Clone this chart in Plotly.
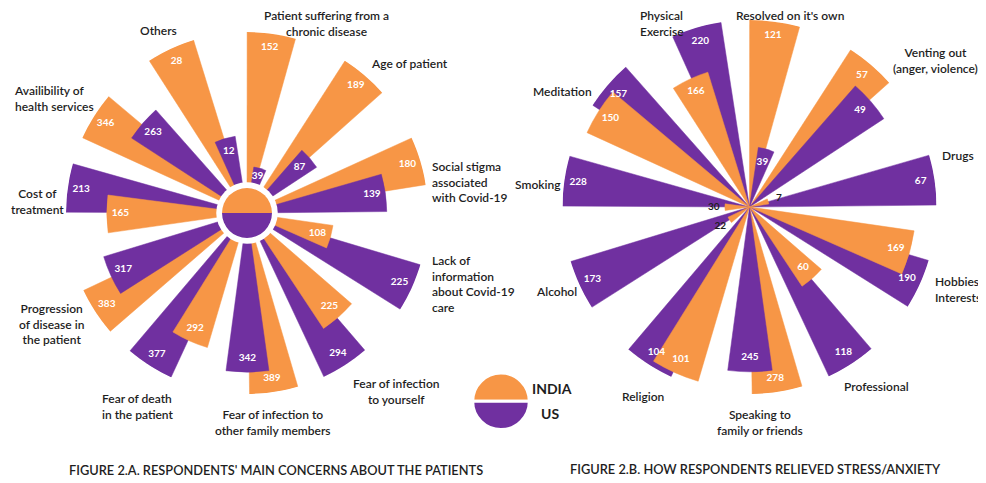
import plotly.graph_objects as go

# ---- data ----
CONCERN_LABELS = [
    "Patient suffering from a<br>chronic disease",
    "Age of patient",
    "Social stigma<br>associated<br>with Covid-19",
    "Lack of<br>information<br>about Covid-19<br>care",
    "Fear of infection<br>to yourself",
    "Fear of infection to<br>other family members",
    "Fear of death<br>in the patient",
    "Progression<br>of disease in<br>the patient",
    "Cost of<br>treatment",
    "Availibility of<br>health services",
    "Others",
]
CONCERN_INDIA = [152, 189, 180, 108, 225, 389, 292, 383, 165, 346, 28]
CONCERN_US = [39, 87, 139, 225, 294, 342, 377, 317, 213, 263, 12]

RELIEF_LABELS = [
    "Resolved on it's own",
    "Venting out<br>(anger, violence)",
    "Drugs",
    "Hobbies/<br>Interests",
    "Professional",
    "Speaking to<br>family or friends",
    "Religion",
    "Alcohol",
    "Smoking",
    "Meditation",
    "Physical<br>Exercise",
]
RELIEF_INDIA = [121, 57, 7, 169, 60, 278, 101, 22, 30, 150, 166]
RELIEF_US = [39, 49, 67, 190, 118, 245, 104, 173, 228, 157, 220]

LEGEND_NAMES = ["INDIA", "US"]

# where the category names sit on the page (x, y of block centre / left edge, anchor)
CONCERN_LABEL_POS = [
    (326, 24, "center"), (409, 64, "center"), (430, 182, "left"), (430, 284, "left"),
    (396, 391, "center"), (273, 422, "center"), (100, 406, "left"), (51, 324, "center"),
    (37, 201, "center"), (12, 99, "left"), (158, 30, "center"),
]
RELIEF_LABEL_POS = [
    (790, 16, "center"), (935, 60, "center"), (958, 155, "center"), (933, 289, "left"),
    (876, 386, "center"), (760, 422, "center"), (643, 396, "center"), (556, 291, "center"),
    (538, 184, "center"), (562, 91, "center"), (638, 24, "left"),
]

W, H = 986, 483
PAGE_MARGIN = 8      # default body margin of the html page
ORANGE = "#F79646"
PURPLE = "#7030A0"
FONT = "Lato"
TEXT_DARK = "#1e1e1e"

STEP = 360 / 11      # one sector per category
START = 7.8          # angle of the first India bar
SHIFT = 8.4          # US bar sits a little clockwise of the India bar
WIDTH = 15.5


def px_x(px):
    return (px - PAGE_MARGIN) / W


def px_y(py):
    return 1 - (py - PAGE_MARGIN) / H


def square_domain(cx, cy, radius):
    return dict(x=[px_x(cx - radius), px_x(cx + radius)],
                y=[px_y(cy + radius), px_y(cy - radius)])


def add_rose(fig, india, us, subplot, inner_min=0.0):
    """Two overlapping bars per category, each scaled to the larger value of its pair."""
    n = len(india)
    th_india = [START + STEP * i for i in range(n)]
    th_us = [t + SHIFT for t in th_india]
    long_r, long_t, long_c, short_r, short_t, short_c = [], [], [], [], [], []
    lab_r, lab_t, lab_txt, lab_col = [], [], [], []
    for i in range(n):
        peak = max(india[i], us[i])
        bars = [(india[i] / peak, th_india[i], ORANGE, india[i]),
                (us[i] / peak, th_us[i], PURPLE, us[i])]
        bars.sort(key=lambda b: -b[0])
        long_r.append(bars[0][0]); long_t.append(bars[0][1]); long_c.append(bars[0][2])
        short_r.append(bars[1][0]); short_t.append(bars[1][1]); short_c.append(bars[1][2])
        for r, t, c, v in bars:
            lab_t.append(t)
            lab_txt.append(str(v))
            if r < 0.2:
                lab_r.append(r + 0.06)
                lab_col.append(TEXT_DARK)
            else:
                lab_r.append(max(r - 0.075, inner_min))
                lab_col.append("white")

    # longer bar first, so the shorter one is drawn on top
    for r, t, c in [(long_r, long_t, long_c), (short_r, short_t, short_c)]:
        fig.add_trace(go.Barpolar(
            r=r, theta=t, width=WIDTH, subplot=subplot,
            marker=dict(color=c, line=dict(color=c, width=0.5)),
            hoverinfo="skip", showlegend=False
        ))
    return lab_r, lab_t, lab_txt, lab_col


fig = go.Figure()

labels_a = add_rose(fig, CONCERN_INDIA, CONCERN_US, "polar", inner_min=0.21)

# white ring + India/US disc in the middle of figure A
fig.add_trace(go.Barpolar(r=[0.17, 0.17], theta=[0, 180], width=[180, 180],
                          marker=dict(color="white", line=dict(width=0)),
                          subplot="polar", hoverinfo="skip", showlegend=False))
fig.add_trace(go.Barpolar(r=[0.138, 0.138], theta=[0, 180], width=[180, 180],
                          marker=dict(color=[ORANGE, PURPLE], line=dict(width=0)),
                          subplot="polar", hoverinfo="skip", showlegend=False))

labels_b = add_rose(fig, RELIEF_INDIA, RELIEF_US, "polar2")

for sub, (r, t, txt, col) in [("polar", labels_a), ("polar2", labels_b)]:
    fig.add_trace(go.Scatterpolar(
        r=r, theta=t, text=txt, mode="text", subplot=sub,
        textfont=dict(family=FONT, size=10, color=col, weight="bold"),
        hoverinfo="skip", showlegend=False
    ))

# legend disc
fig.add_trace(go.Pie(
    values=[1, 1], labels=LEGEND_NAMES, sort=False, direction="clockwise", rotation=270,
    marker=dict(colors=[ORANGE, PURPLE], line=dict(color="white", width=3)),
    textinfo="none", hoverinfo="label", showlegend=False,
    domain=square_domain(501, 401.3, 28.3)
))


def polar_layout(domain):
    return dict(
        domain=domain,
        bgcolor="white",
        barmode="overlay",
        radialaxis=dict(visible=False, range=[0, 1]),
        angularaxis=dict(
            direction="clockwise", rotation=90, thetaunit="degrees",
            showgrid=False, showline=False, ticks="", showticklabels=False,
        ),
    )


label_font = dict(family=FONT, size=12, color=TEXT_DARK, weight=600)
title_font = dict(family=FONT, size=12.8, color=TEXT_DARK, weight=600)

annotations = []
for names, spots in [(CONCERN_LABELS, CONCERN_LABEL_POS), (RELIEF_LABELS, RELIEF_LABEL_POS)]:
    for name, (px, py, anchor) in zip(names, spots):
        annotations.append(dict(
            text=name, x=px_x(px), y=px_y(py), xref="paper", yref="paper",
            xanchor=anchor, yanchor="middle", align=anchor, showarrow=False,
            font=label_font
        ))

annotations += [
    dict(text="FIGURE 2.A. RESPONDENTS' MAIN CONCERNS ABOUT THE PATIENTS",
         x=px_x(276), y=px_y(470), xref="paper", yref="paper", xanchor="center",
         yanchor="middle", showarrow=False, font=title_font),
    dict(text="FIGURE 2.B. HOW RESPONDENTS RELIEVED STRESS/ANXIETY",
         x=px_x(755), y=px_y(469), xref="paper", yref="paper", xanchor="center",
         yanchor="middle", showarrow=False, font=title_font),
    dict(text="<b>INDIA</b>", x=px_x(552), y=px_y(388), xref="paper", yref="paper",
         xanchor="center", yanchor="middle", showarrow=False,
         font=dict(family=FONT, size=14, color=TEXT_DARK)),
    dict(text="<b>US</b>", x=px_x(550), y=px_y(413), xref="paper", yref="paper",
         xanchor="center", yanchor="middle", showarrow=False,
         font=dict(family=FONT, size=14, color=TEXT_DARK)),
]

fig.update_layout(
    width=W, height=H,
    margin=dict(l=0, r=0, t=0, b=0),
    paper_bgcolor="white",
    plot_bgcolor="white",
    polar=polar_layout(square_domain(247, 213, 181)),
    polar2=polar_layout(square_domain(749.5, 207, 187)),
    annotations=annotations,
)

fig.write_html("out.html")
